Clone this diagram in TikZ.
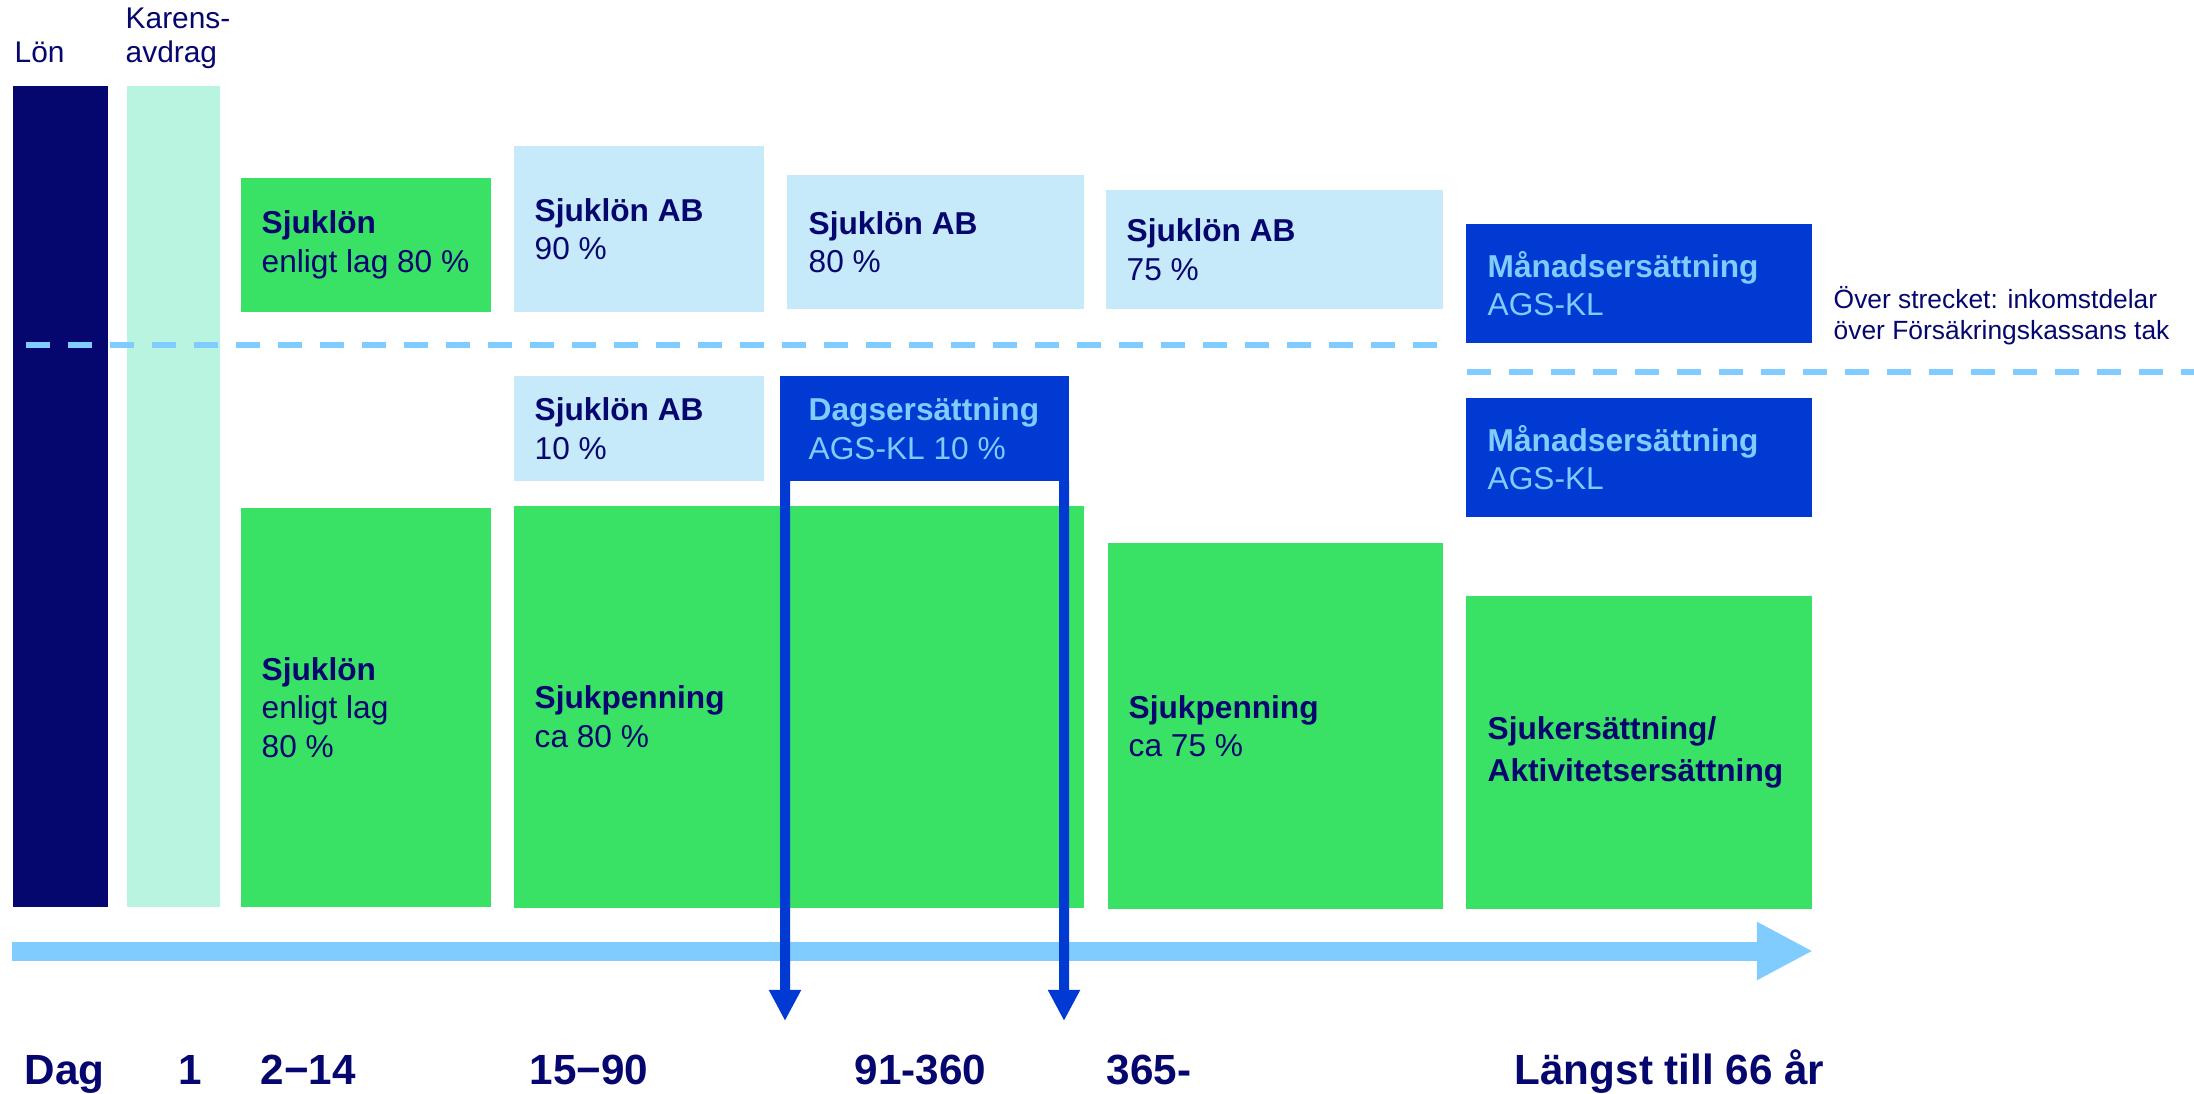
\documentclass[tikz,border=0pt]{standalone}
\usepackage{fontspec}
\setmainfont{Liberation Sans}
\usetikzlibrary{arrows.meta,positioning}

\definecolor{navy}{HTML}{06066F}
\definecolor{mint}{HTML}{B9F4E0}
\definecolor{grn}{HTML}{39E265}
\definecolor{paleblue}{HTML}{C6EAF9}
\definecolor{agsblue}{HTML}{003AD2}
\definecolor{skyblue}{HTML}{80CCFF}

\begin{document}
\begin{tikzpicture}[x=0.01cm,y=-0.01cm,
    blk/.style={anchor=north west,inner sep=0pt,outer sep=0pt},
    txt/.style={align=left,inner sep=0pt,text=navy,font=\fontsize{9}{11}\selectfont},
    agstxt/.style={txt,text=skyblue},
    toplbl/.style={align=left,inner sep=0pt,text=navy,font=\fontsize{8.5}{9.6}\selectfont},
    daylbl/.style={anchor=base west,inner sep=0pt,text=navy,font=\fontsize{12}{14}\selectfont\bfseries},
    dashline/.style={draw=skyblue,line width=0.06cm,dash pattern=on 0.24cm off 0.18cm},
    timeline/.style={draw=skyblue,line width=0.19cm,-{Triangle[length=0.56cm,width=0.54cm]}},
    dagarrow/.style={draw=agsblue,line width=0.1cm,-{Triangle[length=0.31cm,width=0.30cm]}}]
  \useasboundingbox (0,0) rectangle (2194,1094);

  \node[blk,fill=navy,minimum width=0.95cm,minimum height=8.21cm] (lonbar) at (13,86) {};
  \node[blk,fill=mint,minimum width=0.93cm,minimum height=8.21cm] (karbar) at (127,86) {};
  \node[toplbl,anchor=base west] (lonlbl) at (14,63) {Lön};
  \node[toplbl,anchor=west] (karlbl) at (125,38) {Karens-\\avdrag};

  % ovanfor strecket
  \node[blk,fill=grn,minimum width=2.5cm,minimum height=1.34cm] (sjlup) at (241,178) {};
  \node[txt,right=0.2cm of sjlup.west] (sjluptxt) {\textbf{Sjuklön}\\enligt lag 80 \%};
  \node[blk,fill=paleblue,minimum width=2.5cm,minimum height=1.66cm] (ab90) at (514,146) {};
  \node[txt,right=0.2cm of ab90.west] (ab90txt) {\textbf{Sjuklön AB}\\90 \%};
  \node[blk,fill=paleblue,minimum width=2.97cm,minimum height=1.34cm] (ab80) at (787,175) {};
  \node[txt,right=0.21cm of ab80.west] (ab80txt) {\textbf{Sjuklön AB}\\80 \%};
  \node[blk,fill=paleblue,minimum width=3.37cm,minimum height=1.19cm] (ab75) at (1106,190) {};
  \node[txt,right=0.2cm of ab75.west] (ab75txt) {\textbf{Sjuklön AB}\\75 \%};
  \node[blk,fill=agsblue,minimum width=3.46cm,minimum height=1.19cm] (manup) at (1466,224) {};
  \node[agstxt,right=0.21cm of manup.west] (manuptxt) {\textbf{Månadsersättning}\\AGS-KL};
  \node[toplbl,anchor=west,font=\fontsize{7.5}{8.8}\selectfont] (overnote) at (1833,316) {Över strecket: inkomstdelar\\över Försäkringskassans tak};

  % nedanfor strecket
  \node[blk,fill=paleblue,minimum width=2.5cm,minimum height=1.05cm] (ab10) at (514,376) {};
  \node[txt,right=0.2cm of ab10.west] (ab10txt) {\textbf{Sjuklön AB}\\10 \%};
  \node[blk,fill=grn,minimum width=2.5cm,minimum height=3.99cm] (sjllo) at (241,508) {};
  \node[txt,right=0.2cm of sjllo.west] (sjllotxt) {\textbf{Sjuklön}\\enligt lag\\80 \%};
  \node[blk,fill=grn,minimum width=5.7cm,minimum height=4.02cm] (sjp80) at (514,506) {};
  \node[txt,anchor=west] (sjp80txt) at (534,717) {\textbf{Sjukpenning}\\ca 80 \%};
  \node[blk,fill=grn,minimum width=3.35cm,minimum height=3.66cm] (sjp75) at (1108,543) {};
  \node[txt,right=0.2cm of sjp75.west] (sjp75txt) {\textbf{Sjukpenning}\\ca 75 \%};
  \node[blk,fill=grn,minimum width=3.46cm,minimum height=3.13cm] (sjers) at (1466,596) {};
  \node[txt,right=0.21cm of sjers.west,font=\fontsize{9}{12}\selectfont\bfseries] (sjerstxt) {Sjukersättning/\\Aktivitetsersättning};
  \node[blk,fill=agsblue,minimum width=3.46cm,minimum height=1.19cm] (manlo) at (1466,398) {};
  \node[agstxt,right=0.21cm of manlo.west] (manlotxt) {\textbf{Månadsersättning}\\AGS-KL};

  \draw[dashline] (26,345) -- (1437,345);
  \draw[dashline] (1467,372) -- (2194,372);

  \coordinate (tstart) at (12,951);
  \coordinate (tend) at (1813,951);
  \draw[timeline] (tstart) -- (tend);

  \node[blk,fill=agsblue,minimum width=2.89cm,minimum height=1.05cm] (dag) at (780,376) {};
  \node[agstxt,right=0.28cm of dag.west] (dagtxt) {\textbf{Dagsersättning}\\AGS-KL 10 \%};
  \coordinate (dagend1) at (785,1021);
  \coordinate (dagend2) at (1064,1021);
  \draw[dagarrow] ([xshift=0.05cm]dag.south west) -- (dagend1);
  \draw[dagarrow] ([xshift=-0.05cm]dag.south east) -- (dagend2);

  \node[daylbl] (dag0) at (24,1084) {Dag};
  \node[daylbl] (dag1) at (178,1084) {1};
  \node[daylbl] (dag2) at (260,1084) {2−14};
  \node[daylbl] (dag15) at (529,1084) {15−90};
  \node[daylbl] (dag91) at (854,1084) {91-360};
  \node[daylbl] (dag365) at (1106,1084) {365-};
  \node[daylbl] (dagmax) at (1514,1084) {Längst till 66 år};
\end{tikzpicture}
\end{document}
